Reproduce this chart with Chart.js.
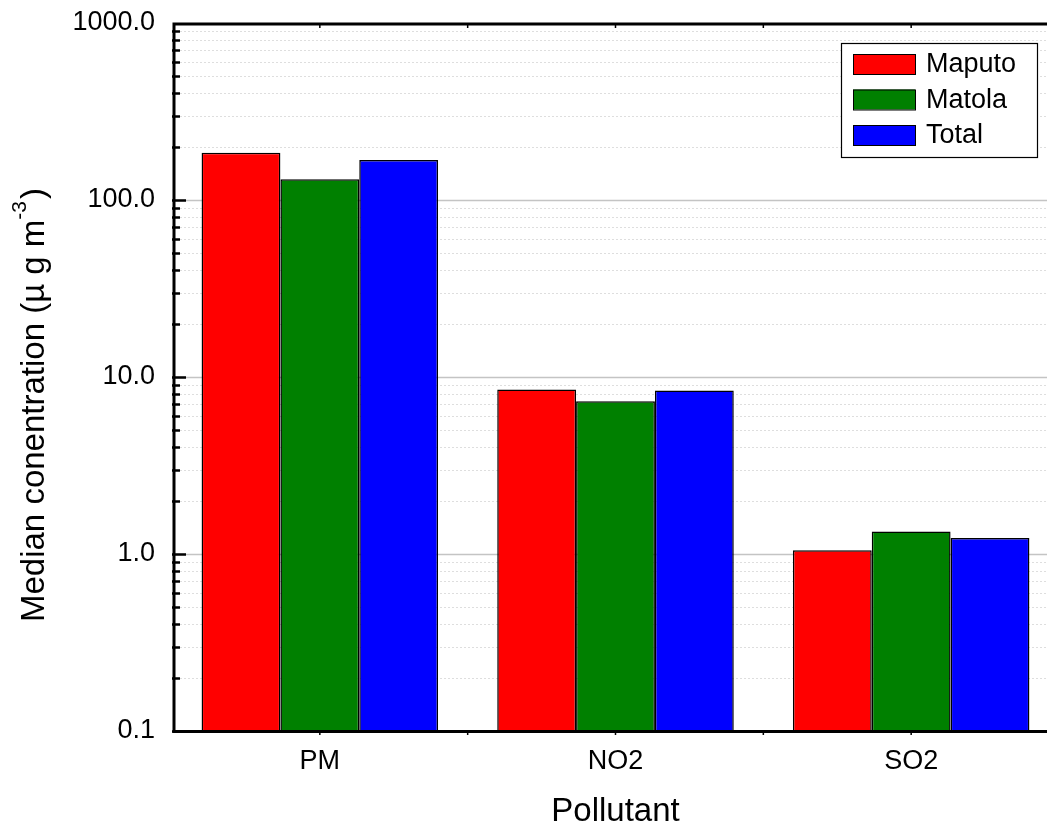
<!DOCTYPE html>
<html>
<head>
<meta charset="utf-8">
<script src="https://cdn.jsdelivr.net/npm/chart.js@4.4.1/dist/chart.umd.min.js"></script>
<style>
  html, body { margin: 0; padding: 0; background: #fff; overflow: hidden; }
</style>
</head>
<body>
<canvas id="myChart" width="1080" height="827"></canvas>
<script>
const categories = ['PM', 'NO2', 'SO2'];
const maputo = [185, 8.5, 1.05];
const matola = [131, 7.3, 1.34];
const total = [168, 8.4, 1.23];
const yTicks = [0.1, 1, 10, 100, 1000];

const FONT = '"Liberation Sans", Arial, sans-serif';

// grid lines, axes, legend and titles drawn over the chart
const frame = {
  id: 'frame',
  beforeDatasetsDraw(chart) {
    const ctx = chart.ctx;
    const a = chart.chartArea;
    const y = chart.scales.y;
    ctx.save();
    for (let i = 0; i < yTicks.length - 1; i++) {
      for (let k = 1; k < 10; k++) {
        const v = yTicks[i] * k;
        if (v <= y.min) continue;
        const py = Math.round(y.getPixelForValue(v)) + 0.5;
        if (k === 1) {
          ctx.strokeStyle = '#c4c4c4';
          ctx.lineWidth = 1.5;
          ctx.setLineDash([]);
        } else {
          ctx.strokeStyle = '#dedede';
          ctx.lineWidth = 1;
          ctx.setLineDash([2, 2]);
        }
        ctx.beginPath();
        ctx.moveTo(a.left, py);
        ctx.lineTo(a.right, py);
        ctx.stroke();
      }
    }
    ctx.restore();
  },
  afterDatasetsDraw(chart) {
    const ctx = chart.ctx;
    const a = chart.chartArea;
    const y = chart.scales.y;
    const x = chart.scales.x;
    ctx.save();
    ctx.strokeStyle = '#000';
    ctx.setLineDash([]);

    // minor / major ticks on the left axis, pointing inward
    ctx.lineWidth = 2.5;
    for (let i = 0; i < yTicks.length - 1; i++) {
      for (let k = 1; k < 10; k++) {
        const v = yTicks[i] * k;
        const py = Math.round(y.getPixelForValue(v)) + 0.5;
        ctx.beginPath();
        ctx.moveTo(a.left, py);
        ctx.lineTo(a.left + (k === 1 ? 14 : 8), py);
        ctx.stroke();
      }
    }

    // small ticks on top and bottom axes at centres and group edges
    ctx.lineWidth = 1.5;
    const step = (a.right - a.left) / categories.length;
    for (let i = 0; i < categories.length; i++) {
      const cx = x.getPixelForValue(i);
      [cx, a.left + step * (i + 1)].forEach(px => {
        ctx.beginPath();
        ctx.moveTo(px, a.top);
        ctx.lineTo(px, a.top + 5);
        ctx.moveTo(px, a.bottom);
        ctx.lineTo(px, a.bottom + 4);
        ctx.stroke();
      });
    }

    // axis lines
    ctx.lineWidth = 3;
    ctx.beginPath();
    ctx.moveTo(a.left + 2, a.top - 0.5);
    ctx.lineTo(a.left + 2, a.bottom + 2);
    ctx.moveTo(a.left + 0.5, a.bottom + 0.5);
    ctx.lineTo(a.right, a.bottom + 0.5);
    ctx.moveTo(a.left + 0.5, a.top + 1);
    ctx.lineTo(a.right, a.top + 1);
    ctx.stroke();
    ctx.restore();
  },
  afterDraw(chart) {
    const ctx = chart.ctx;
    const a = chart.chartArea;
    ctx.save();
    ctx.fillStyle = '#000';

    // x axis title
    ctx.font = '33px ' + FONT;
    ctx.textAlign = 'center';
    ctx.textBaseline = 'alphabetic';
    ctx.fillText('Pollutant', (a.left + a.right) / 2, 821);

    // y axis title with superscript
    const main = 'Median conentration (\u00b5 g m';
    const sup = '-3';
    const end = ')';
    ctx.font = '33px ' + FONT;
    const w1 = ctx.measureText(main).width;
    const w3 = ctx.measureText(end).width;
    ctx.font = '21px ' + FONT;
    const w2 = ctx.measureText(sup).width;
    const total = w1 + w2 + w3 + 2;
    ctx.translate(44, 405);
    ctx.rotate(-Math.PI / 2);
    ctx.textAlign = 'left';
    let px = -total / 2;
    ctx.font = '33px ' + FONT;
    ctx.fillText(main, px, 0);
    px += w1;
    ctx.font = '21px ' + FONT;
    ctx.fillText(sup, px, -18);
    px += w2 + 2;
    ctx.font = '33px ' + FONT;
    ctx.fillText(end, px, 0);
    ctx.setTransform(1, 0, 0, 1, 0, 0);

    // legend box
    ctx.fillStyle = '#fff';
    ctx.fillRect(841, 43, 196, 114);
    ctx.strokeStyle = '#000';
    ctx.lineWidth = 1.2;
    ctx.strokeRect(841.5, 43.5, 196, 114);
    ctx.font = '27px ' + FONT;
    ctx.textAlign = 'left';
    ctx.textBaseline = 'middle';
    chart.data.datasets.forEach((ds, i) => {
      const top = 54 + i * 35.5;
      ctx.fillStyle = ds.backgroundColor;
      ctx.fillRect(853, top, 62, 20);
      ctx.strokeStyle = '#000';
      ctx.lineWidth = 1;
      ctx.strokeRect(853.5, top + 0.5, 62, 20);
      ctx.fillStyle = '#000';
      ctx.fillText(ds.label, 926, top + 11);
    });
    ctx.restore();
  }
};

const ctx = document.getElementById('myChart').getContext('2d');
const myChart = new Chart(ctx, {
  type: 'bar',
  data: {
    labels: categories,
    datasets: [
      { label: 'Maputo', data: maputo, backgroundColor: '#ff0000' },
      { label: 'Matola', data: matola, backgroundColor: '#008000' },
      { label: 'Total', data: total, backgroundColor: '#0000ff' }
    ].map(d => Object.assign(d, {
      borderColor: '#000',
      borderWidth: 1.5,
      categoryPercentage: 0.8,
      barPercentage: 1.0
    }))
  },
  options: {
    responsive: false,
    animation: false,
    layout: { padding: { top: 23, right: 21, left: 0, bottom: 0 } },
    plugins: {
      legend: { display: false },
      tooltip: { enabled: false }
    },
    scales: {
      x: {
        grid: { display: false, drawTicks: false },
        border: { display: false },
        ticks: {
          color: '#000',
          font: { family: FONT, size: 27 },
          padding: 14
        },
        afterFit(s) {
          s.height = 96;
          s.paddingLeft = 0;
          s.paddingRight = 0;
        }
      },
      y: {
        type: 'logarithmic',
        min: 0.1,
        max: 1000,
        grid: { display: false, drawTicks: false },
        border: { display: false },
        afterBuildTicks(s) { s.ticks = yTicks.map(v => ({ value: v })); },
        ticks: {
          color: '#000',
          font: { family: FONT, size: 27 },
          padding: 17,
          callback: v => Number(v).toFixed(1)
        },
        afterFit(s) {
          s.width = 172;
          s.paddingTop = 0;
          s.paddingBottom = 0;
        }
      }
    }
  },
  plugins: [frame]
});
</script>
</body>
</html>
